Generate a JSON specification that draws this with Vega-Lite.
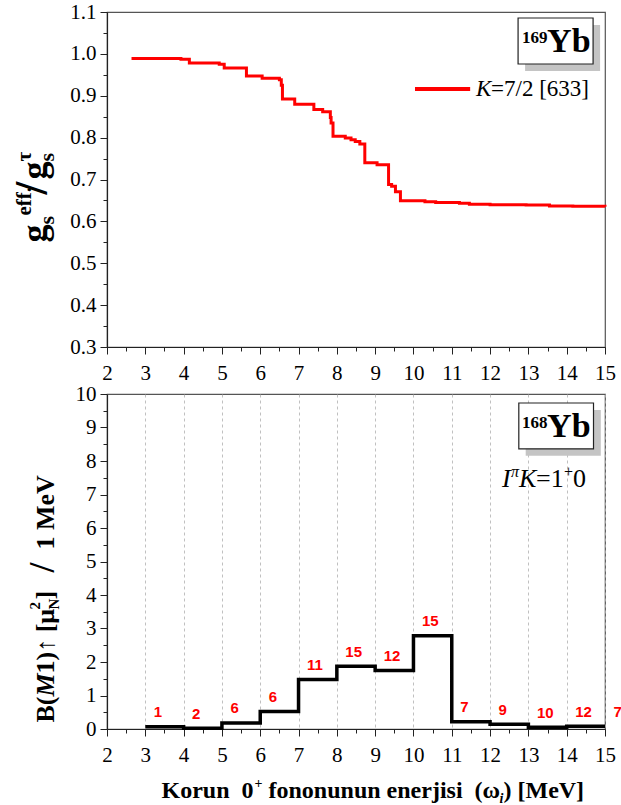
{
  "$schema": "https://vega.github.io/schema/vega-lite/v6.json",
  "background": "white",
  "padding": {"left": 8, "top": 0, "right": 0, "bottom": 0},
  "spacing": 47,
  "bounds": "flush",
  "datasets": {
    "top": [
      {"X": 2.64, "Y": 0.989}, {"X": 3.93, "Y": 0.987}, {"X": 4.15, "Y": 0.978}, {"X": 4.93, "Y": 0.975},
      {"X": 5.06, "Y": 0.966}, {"X": 5.64, "Y": 0.947}, {"X": 6.05, "Y": 0.942}, {"X": 6.50, "Y": 0.938},
      {"X": 6.55, "Y": 0.925}, {"X": 6.58, "Y": 0.892}, {"X": 6.90, "Y": 0.880}, {"X": 7.40, "Y": 0.867},
      {"X": 7.63, "Y": 0.862}, {"X": 7.83, "Y": 0.848}, {"X": 7.85, "Y": 0.835}, {"X": 7.90, "Y": 0.803},
      {"X": 8.22, "Y": 0.799}, {"X": 8.37, "Y": 0.795}, {"X": 8.48, "Y": 0.791}, {"X": 8.60, "Y": 0.785},
      {"X": 8.73, "Y": 0.740}, {"X": 9.05, "Y": 0.735}, {"X": 9.35, "Y": 0.688}, {"X": 9.43, "Y": 0.684},
      {"X": 9.53, "Y": 0.671}, {"X": 9.66, "Y": 0.649}, {"X": 10.30, "Y": 0.647}, {"X": 10.58, "Y": 0.645},
      {"X": 11.20, "Y": 0.643}, {"X": 11.46, "Y": 0.641}, {"X": 12.00, "Y": 0.640}, {"X": 12.94, "Y": 0.639},
      {"X": 13.55, "Y": 0.637}, {"X": 14.16, "Y": 0.636}, {"X": 15.00, "Y": 0.635}
    ],
    "bot": [
      {"e": 3, "b": 0.07, "n": "1"}, {"e": 4, "b": 0.02, "n": "2"}, {"e": 5, "b": 0.18, "n": "6"},
      {"e": 6, "b": 0.52, "n": "6"}, {"e": 7, "b": 1.48, "n": "11"}, {"e": 8, "b": 1.87, "n": "15"},
      {"e": 9, "b": 1.75, "n": "12"}, {"e": 10, "b": 2.78, "n": "15"}, {"e": 11, "b": 0.22, "n": "7"},
      {"e": 12, "b": 0.14, "n": "9"}, {"e": 13, "b": 0.05, "n": "10"}, {"e": 14, "b": 0.08, "n": "12"},
      {"e": 15, "b": 0.08, "n": "7"}
    ],
    "one": [{}]
  },
  "vconcat": [
    {
      "width": 498,
      "height": 335,
      "resolve": {"axis": {"x": "independent", "y": "independent"}},
      "layer": [
        {
          "data": {"name": "top"},
          "mark": {"type": "line", "interpolate": "step-after", "color": "#ff0000", "strokeWidth": 3},
          "encoding": {
            "x": {"field": "X", "type": "quantitative", "scale": {"domain": [2, 15], "nice": false, "zero": false},
              "axis": {"values": [2,3,4,5,6,7,8,9,10,11,12,13,14,15], "format": "d", "tickSize": 7, "labelPadding": 8, "labelFlush": false, "labelOverlap": false, "title": null, "orient": "bottom"}},
            "y": {"field": "Y", "type": "quantitative", "scale": {"domain": [0.3, 1.1], "nice": false, "zero": false},
              "axis": {"values": [0.3,0.4,0.5,0.6,0.7,0.8,0.9,1.0,1.1], "format": ".1f", "tickSize": 7, "labelPadding": 4, "labelOverlap": false, "orient": "left",
                "title": "g", "titleX": -62, "titleY": 230, "titleAngle": 270, "titleAlign": "left", "titleBaseline": "alphabetic", "titleFontSize": 36}}
          }
        },
        {
          "data": {"name": "one"},
          "mark": {"type": "rule", "color": "#ff0000", "strokeWidth": 4},
          "encoding": {
            "x": {"datum": 10.04, "type": "quantitative", "axis": {"values": [2.5,3.5,4.5,5.5,6.5,7.5,8.5,9.5,10.5,11.5,12.5,13.5,14.5], "tickSize": 4, "labels": false, "domain": false, "title": null, "orient": "bottom"}},
            "x2": {"datum": 11.48},
            "y": {"datum": 0.916, "type": "quantitative", "axis": {"values": [0.35,0.45,0.55,0.65,0.75,0.85,0.95,1.05], "tickSize": 4, "labels": false, "domain": false, "orient": "left",
              "title": "s", "titleX": -54, "titleY": 212, "titleAngle": 270, "titleAlign": "left", "titleBaseline": "alphabetic", "titleFontSize": 22}}
          }
        },
        {
          "data": {"name": "one"},
          "mark": {"type": "rect", "fill": "#c4c4c4"},
          "encoding": {
            "x": {"datum": 12.914, "type": "quantitative", "axis": null},
            "x2": {"datum": 14.872},
            "y": {"datum": 1.069, "type": "quantitative", "axis": {"domain": false, "ticks": false, "labels": false, "orient": "left",
              "title": "eff.", "titleX": -77, "titleY": 203, "titleAngle": 270, "titleAlign": "left", "titleBaseline": "alphabetic", "titleFontSize": 21}},
            "y2": {"datum": 0.959}
          }
        },
        {
          "data": {"name": "one"},
          "mark": {"type": "rect", "fill": "white", "stroke": "#222", "strokeWidth": 1.2},
          "encoding": {
            "x": {"datum": 12.731, "type": "quantitative", "axis": null},
            "x2": {"datum": 14.689},
            "y": {"datum": 1.0857, "type": "quantitative", "axis": {"domain": false, "ticks": false, "labels": false, "orient": "left",
              "title": "/", "titleX": -61, "titleY": 182, "titleAngle": 270, "titleAlign": "left", "titleBaseline": "alphabetic", "titleFontSize": 46}},
            "y2": {"datum": 0.9758}
          }
        },
        {
          "data": {"name": "one"},
          "mark": {"type": "text", "text": "169", "fontWeight": "bold", "fontSize": 17, "align": "left", "baseline": "alphabetic"},
          "encoding": {
            "x": {"datum": 12.836, "type": "quantitative", "axis": null},
            "y": {"datum": 1.026, "type": "quantitative", "axis": {"domain": false, "ticks": false, "labels": false, "orient": "left",
              "title": "g", "titleX": -62, "titleY": 167, "titleAngle": 270, "titleAlign": "left", "titleBaseline": "alphabetic", "titleFontSize": 36}}
          }
        },
        {
          "data": {"name": "one"},
          "mark": {"type": "text", "text": "Yb", "fontWeight": "bold", "fontSize": 34, "align": "left", "baseline": "alphabetic"},
          "encoding": {
            "x": {"datum": 13.488, "type": "quantitative", "axis": null},
            "y": {"datum": 1.0045, "type": "quantitative", "axis": {"domain": false, "ticks": false, "labels": false, "orient": "left",
              "title": "s", "titleX": -54, "titleY": 149, "titleAngle": 270, "titleAlign": "left", "titleBaseline": "alphabetic", "titleFontSize": 22}}
          }
        },
        {
          "data": {"name": "one"},
          "mark": {"type": "text", "text": "K", "fontStyle": "italic", "fontSize": 23, "align": "left", "baseline": "alphabetic"},
          "encoding": {
            "x": {"datum": 11.634, "type": "quantitative", "axis": null},
            "y": {"datum": 0.8994, "type": "quantitative", "axis": {"domain": false, "ticks": false, "labels": false, "orient": "left",
              "title": "τ", "titleX": -77, "titleY": 149, "titleAngle": 270, "titleAlign": "left", "titleBaseline": "alphabetic", "titleFontSize": 21}}
          }
        },
        {
          "data": {"name": "one"},
          "mark": {"type": "text", "text": "=7/2 [633]", "fontSize": 23, "align": "left", "baseline": "alphabetic"},
          "encoding": {
            "x": {"datum": 12.026, "type": "quantitative", "axis": null},
            "y": {"datum": 0.8994, "type": "quantitative", "axis": null}
          }
        }
      ]
    },
    {
      "width": 498,
      "height": 335,
      "resolve": {"axis": {"x": "independent", "y": "independent"}},
      "layer": [
        {
          "data": {"name": "bot"},
          "mark": {"type": "line", "interpolate": "step-after", "color": "black", "strokeWidth": 3.5, "strokeJoin": "miter"},
          "encoding": {
            "x": {"field": "e", "type": "quantitative", "scale": {"domain": [2, 15], "nice": false, "zero": false},
              "axis": {"values": [2,3,4,5,6,7,8,9,10,11,12,13,14,15], "format": "d", "tickSize": 7, "labelPadding": 8, "labelFlush": false, "labelOverlap": false, "orient": "bottom",
                "grid": true, "gridDash": [3, 3], "gridColor": "#b0b0b0", "gridWidth": 0.8,
                "title": "Korun\u00a0\u00a00", "titleX": 54, "titleY": 68, "titleAlign": "left", "titleBaseline": "alphabetic", "titleFontSize": 24}},
            "y": {"field": "b", "type": "quantitative", "scale": {"domain": [0, 10], "nice": false, "zero": false},
              "axis": {"values": [0,1,2,3,4,5,6,7,8,9,10], "format": "d", "tickSize": 7, "labelPadding": 4, "labelOverlap": false, "orient": "left",
                "title": "B(", "titleX": -54, "titleY": 328, "titleAngle": 270, "titleAlign": "left", "titleBaseline": "alphabetic", "titleFontSize": 26}}
          }
        },
        {
          "data": {"name": "bot"},
          "mark": {"type": "text", "font": "Liberation Sans, Arial, sans-serif", "fontWeight": "bold", "fontSize": 15, "color": "#ff0000", "align": "left", "baseline": "middle", "dx": 8.5, "dy": -14.5},
          "encoding": {
            "text": {"field": "n"},
            "x": {"field": "e", "type": "quantitative", "axis": {"values": [2.5,3.5,4.5,5.5,6.5,7.5,8.5,9.5,10.5,11.5,12.5,13.5,14.5], "tickSize": 4, "labels": false, "domain": false, "orient": "bottom",
              "title": "+", "titleX": 147, "titleY": 58, "titleAlign": "left", "titleBaseline": "alphabetic", "titleFontSize": 14}},
            "y": {"field": "b", "type": "quantitative", "axis": {"values": [0.5,1.5,2.5,3.5,4.5,5.5,6.5,7.5,8.5,9.5], "tickSize": 4, "labels": false, "domain": false, "orient": "left",
              "title": "M", "titleX": -54, "titleY": 302, "titleAngle": 270, "titleAlign": "left", "titleBaseline": "alphabetic", "titleFontSize": 26, "titleFontStyle": "italic"}}
          }
        },
        {
          "data": {"name": "one"},
          "mark": {"type": "rect", "fill": "#c4c4c4"},
          "encoding": {
            "x": {"datum": 12.93, "type": "quantitative", "axis": {"domain": false, "ticks": false, "labels": false, "orient": "bottom",
              "title": "fononunun enerjisi\u00a0\u00a0(ω", "titleX": 161, "titleY": 68, "titleAlign": "left", "titleBaseline": "alphabetic", "titleFontSize": 24}},
            "x2": {"datum": 14.89},
            "y": {"datum": 9.523, "type": "quantitative", "axis": {"domain": false, "ticks": false, "labels": false, "orient": "left",
              "title": "1)↑ [μ", "titleX": -54, "titleY": 279, "titleAngle": 270, "titleAlign": "left", "titleBaseline": "alphabetic", "titleFontSize": 26}},
            "y2": {"datum": 8.153}
          }
        },
        {
          "data": {"name": "one"},
          "mark": {"type": "rect", "fill": "white", "stroke": "#222", "strokeWidth": 1.2},
          "encoding": {
            "x": {"datum": 12.75, "type": "quantitative", "axis": {"domain": false, "ticks": false, "labels": false, "orient": "bottom",
              "title": "i", "titleX": 392, "titleY": 73, "titleAlign": "left", "titleBaseline": "alphabetic", "titleFontSize": 14, "titleFontStyle": "italic"}},
            "x2": {"datum": 14.70},
            "y": {"datum": 9.732, "type": "quantitative", "axis": {"domain": false, "ticks": false, "labels": false, "orient": "left",
              "title": "2", "titleX": -68, "titleY": 215, "titleAngle": 270, "titleAlign": "left", "titleBaseline": "alphabetic", "titleFontSize": 15}},
            "y2": {"datum": 8.362}
          }
        },
        {
          "data": {"name": "one"},
          "mark": {"type": "text", "text": "168", "fontWeight": "bold", "fontSize": 17, "align": "left", "baseline": "alphabetic"},
          "encoding": {
            "x": {"datum": 12.836, "type": "quantitative", "axis": {"domain": false, "ticks": false, "labels": false, "orient": "bottom",
              "title": ") [MeV]", "titleX": 396, "titleY": 68, "titleAlign": "left", "titleBaseline": "alphabetic", "titleFontSize": 24}},
            "y": {"datum": 8.987, "type": "quantitative", "axis": {"domain": false, "ticks": false, "labels": false, "orient": "left",
              "title": "N", "titleX": -49, "titleY": 215, "titleAngle": 270, "titleAlign": "left", "titleBaseline": "alphabetic", "titleFontSize": 15}}
          }
        },
        {
          "data": {"name": "one"},
          "mark": {"type": "text", "text": "Yb", "fontWeight": "bold", "fontSize": 34, "align": "left", "baseline": "alphabetic"},
          "encoding": {
            "x": {"datum": 13.488, "type": "quantitative", "axis": null},
            "y": {"datum": 8.719, "type": "quantitative", "axis": {"domain": false, "ticks": false, "labels": false, "orient": "left",
              "title": "]", "titleX": -54, "titleY": 205, "titleAngle": 270, "titleAlign": "left", "titleBaseline": "alphabetic", "titleFontSize": 26}}
          }
        },
        {
          "data": {"name": "one"},
          "mark": {"type": "text", "text": "I", "fontStyle": "italic", "fontSize": 26, "align": "left", "baseline": "alphabetic"},
          "encoding": {
            "x": {"datum": 12.313, "type": "quantitative", "axis": null},
            "y": {"datum": 7.232, "type": "quantitative", "axis": {"domain": false, "ticks": false, "labels": false, "orient": "left",
              "title": "/", "titleX": -54, "titleY": 178, "titleAngle": 270, "titleAlign": "left", "titleBaseline": "alphabetic", "titleFontSize": 36}}
          }
        },
        {
          "data": {"name": "one"},
          "mark": {"type": "text", "text": "π", "fontStyle": "italic", "fontSize": 16, "align": "left", "baseline": "alphabetic"},
          "encoding": {
            "x": {"datum": 12.548, "type": "quantitative", "axis": null},
            "y": {"datum": 7.53, "type": "quantitative", "axis": {"domain": false, "ticks": false, "labels": false, "orient": "left",
              "title": "1 MeV", "titleX": -54, "titleY": 155, "titleAngle": 270, "titleAlign": "left", "titleBaseline": "alphabetic", "titleFontSize": 26}}
          }
        },
        {
          "data": {"name": "one"},
          "mark": {"type": "text", "text": "K", "fontStyle": "italic", "fontSize": 26, "align": "left", "baseline": "alphabetic"},
          "encoding": {
            "x": {"datum": 12.757, "type": "quantitative", "axis": null},
            "y": {"datum": 7.232, "type": "quantitative", "axis": null}
          }
        },
        {
          "data": {"name": "one"},
          "mark": {"type": "text", "text": "=1", "fontSize": 26, "align": "left", "baseline": "alphabetic"},
          "encoding": {
            "x": {"datum": 13.201, "type": "quantitative", "axis": null},
            "y": {"datum": 7.232, "type": "quantitative", "axis": null}
          }
        },
        {
          "data": {"name": "one"},
          "mark": {"type": "text", "text": "+", "fontSize": 16, "align": "left", "baseline": "alphabetic"},
          "encoding": {
            "x": {"datum": 13.932, "type": "quantitative", "axis": null},
            "y": {"datum": 7.53, "type": "quantitative", "axis": null}
          }
        },
        {
          "data": {"name": "one"},
          "mark": {"type": "text", "text": "0", "fontSize": 26, "align": "left", "baseline": "alphabetic"},
          "encoding": {
            "x": {"datum": 14.167, "type": "quantitative", "axis": null},
            "y": {"datum": 7.232, "type": "quantitative", "axis": null}
          }
        }
      ]
    }
  ],
  "config": {
    "font": "Liberation Serif, Times New Roman, Times, serif",
    "text": {"font": "Liberation Serif, Times New Roman, Times, serif", "color": "black"},
    "view": {"stroke": "#555", "strokeWidth": 1.2},
    "axis": {
      "labelFont": "Liberation Serif, Times New Roman, Times, serif", "labelFontSize": 21, "labelColor": "black",
      "domainColor": "#222", "domainWidth": 1.2, "tickColor": "#222", "tickWidth": 1,
      "titleFont": "Liberation Serif, Times New Roman, Times, serif", "titleFontWeight": "bold", "titleColor": "black", "grid": false
    }
  }
}
